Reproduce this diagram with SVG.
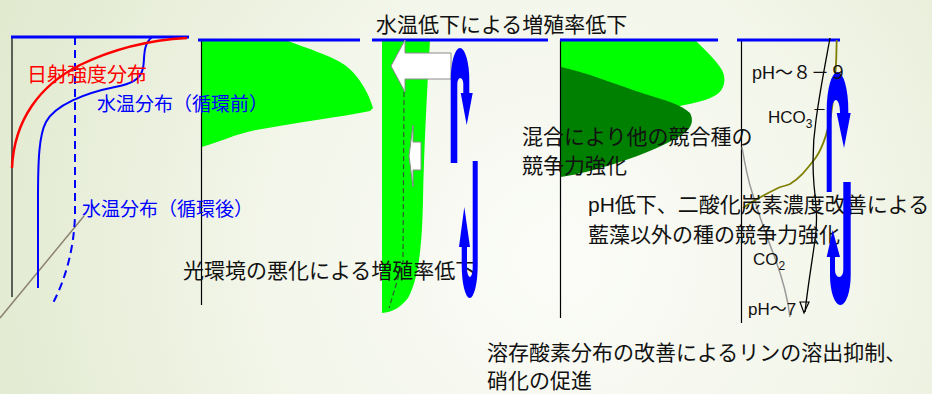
<svg xmlns="http://www.w3.org/2000/svg" width="932" height="394" viewBox="0 0 932 394">
  <defs>
    <radialGradient id="bg" cx="560" cy="260" r="640" gradientUnits="userSpaceOnUse">
      <stop offset="0" stop-color="#fbfcf8"/>
      <stop offset="0.45" stop-color="#f3f6ea"/>
      <stop offset="1" stop-color="#dfe8cc"/>
    </radialGradient>
    <style>
      .jp { font-family: "Noto Sans CJK JP", "Noto Sans", sans-serif; }
      .lat { font-family: "Liberation Sans", "Noto Sans CJK JP", sans-serif; }
      .label { font-size: 21px; fill: #111; }
      .top { stroke: #0000ff; stroke-width: 3; fill: none; }
      .axis { stroke: #000; stroke-width: 1.2; fill: none; }
      .hook { fill: #0000ff; }
      .bright { fill: #00ff00; }
      .dark { fill: #008000; }
      .white-arrow { fill: #ffffff; stroke: #8a8a8a; stroke-width: 1; }
    </style>
  </defs>

  <!-- background -->
  <rect width="932" height="394" fill="url(#bg)"/>
  <line x1="0" y1="318" x2="84" y2="216" stroke="#8c8270" stroke-width="1.5"/>

  <!-- panel 1: light and temperature profiles -->
  <g id="panel1">
    <line class="axis" x1="12" y1="37" x2="12" y2="297" stroke-width="2.5"/>
    <line class="top" x1="11" y1="37" x2="189" y2="37"/>
    <path d="M75,37 L75,215 C74,250 65,280 53,303" fill="none" stroke="#0000ff" stroke-width="2" stroke-dasharray="8,5"/>
    <path d="M152,37 C142,45 145,60 143,68 C141,80 130,84 115,87 C85,93 55,105 46,122 C39,135 38,160 38,200 L38,288" fill="none" stroke="#0000ff" stroke-width="2"/>
    <path d="M12,168 C14,120 40,85 80,65 C115,48 150,40 187,38" fill="none" stroke="#ff0000" stroke-width="2.5"/>
  </g>

  <!-- panel 2: algae near the surface -->
  <g id="panel2">
    <path class="bright" d="M201.5,40 L285,40 C310,49 330,56 340,62 C355,70 368,90 373,108 L370,111 C340,117 300,122 256,130 C235,134 220,142 201.5,147 Z"/>
    <line class="axis" x1="201.5" y1="40" x2="201.5" y2="305"/>
    <line class="top" x1="198" y1="40" x2="360" y2="40"/>
  </g>

  <!-- panel 3: mixing spreads the algae downward -->
  <g id="panel3">
    <path class="bright" d="M382,40 L430,40 C427,90 424,150 423,200 C422,250 418,280 408,298 C400,308 392,312 382,313 Z"/>
    <line class="top" x1="372" y1="40" x2="548" y2="40"/>
    <path d="M404,92 L403,262 L389,308" fill="none" stroke="#2f5a2f" stroke-width="1.2" stroke-dasharray="5,3"/>
    <polygon class="white-arrow" points="451,53 405,53 405,40 391,66 405,92 405,79 451,79"/>
    <polygon class="white-arrow" points="421,142 413,142 413,125 409,156 413,187 413,170 421,170"/>
  </g>

  <!-- panel 4: shift in competing species -->
  <g id="panel4">
    <path class="bright" d="M561,40 L695,40 C705,50 716,60 722,70 C727,80 724,90 716,95 C708,100 695,103 680,106 L561,106 Z"/>
    <path class="dark" d="M561,67 C585,72 615,84 645,94 C665,100 682,105 690,113 C694,120 692,128 683,134 C670,143 645,154 617,163 C598,169 580,174 561,177 Z"/>
    <line class="axis" x1="560.5" y1="40" x2="560.5" y2="318"/>
    <line class="top" x1="560" y1="40" x2="718" y2="40"/>
  </g>

  <!-- panel 5: carbonate equilibrium and pH -->
  <g id="panel5">
    <line class="axis" x1="741.5" y1="40" x2="741.5" y2="323"/>
    <line class="top" x1="737" y1="40" x2="840" y2="40"/>
    <path d="M742,147 C745,165 748,180 752,192 C758,212 766,235 775,258 C783,280 788,300 790,317" fill="none" stroke="#999999" stroke-width="1.5"/>
    <path d="M836.7,40 C836.5,60 835,90 831,115 C827,135 822,150 814,160 C806,170 800,178 790,184 C786,186 782,186 778,188 C766,194 752,201 743,208" fill="none" stroke="#808000" stroke-width="1.8"/>
    <path d="M830,38 C826,60 820,90 816,120 C813,140 812,160 814,185 C816,205 818,220 815,240 C812,262 808,285 805,312" fill="none" stroke="#000" stroke-width="1.3"/>
    <polygon points="800,302 809,302 804,313" fill="none" stroke="#000" stroke-width="1.2"/>
  </g>

  <!-- labels drawn over the profiles -->
  <g id="labels">
    <text id="title" class="jp label" x="376" y="32">水温低下による増殖率低下</text>
    <text class="jp" x="27" y="82" font-size="20" fill="#ff0000">日射強度分布</text>
    <text class="jp" x="97" y="111" font-size="19" fill="#0000ff">水温分布（循環前）</text>
    <text class="jp" x="82" y="216" font-size="19" fill="#0000ff">水温分布（循環後）</text>
    <text class="jp label" x="183" y="278">光環境の悪化による増殖率低下</text>
    <text class="jp label" x="522" y="144">混合により他の競合種の</text>
    <text class="jp label" x="522" y="173">競争力強化</text>
    <text class="lat label" x="588" y="212">pH低下、二酸化炭素濃度改善による</text>
    <text class="jp label" x="588" y="242">藍藻以外の種の競争力強化</text>
    <text class="jp label" x="487" y="360">溶存酸素分布の改善によるリンの溶出抑制、</text>
    <text class="jp label" x="487" y="388">硝化の促進</text>
  </g>

  <!-- circulation hooks -->
  <g id="circulation">
    <path class="hook" d="M450.7,163 L450.7,80 A9.3,32 0 0 1 469.3,80 L469.3,93 L472.7,93 L466.7,125 L460.7,93 L463.3,93 L463.3,84 A3,6 0 0 0 457.3,84 L457.3,163 Z"/>
    <path class="hook" d="M472.7,161 L477.7,161 L477.7,265 A8,33 0 0 1 461.7,265 L461.7,247 L459,247 L464.3,207 L470,247 L467,247 L467,268 A2.85,9 0 0 0 472.7,268 Z"/>
    <path class="hook" d="M826.7,192 L826.7,110 A10.8,38 0 0 1 848.3,110 L848.3,113 L850.7,113 L844,148 L836.7,113 L840,113 L840,112 A4.15,12 0 0 0 831.7,112 L831.7,192 Z"/>
    <path class="hook" d="M843.3,182 L850.7,182 L850.7,275 A10.35,30 0 0 1 830,275 L830,257 L826.7,257 L832.7,230 L840,257 L835,257 L835,270 A4.15,7 0 0 0 843.3,270 Z"/>
  </g>

  <!-- chemistry labels on top of the circulation -->
  <g id="chem-labels">
    <text class="lat" x="752" y="79" font-size="18" fill="#111">pH～８－９</text>
    <text class="lat" x="768" y="123" font-size="17" fill="#111">HCO<tspan font-size="12" dy="5">3</tspan><tspan font-size="14" dy="-14">－</tspan></text>
    <text class="lat" x="753" y="265" font-size="17" fill="#111">CO<tspan font-size="12" dy="5">2</tspan></text>
    <text class="lat" x="748" y="315" font-size="17" fill="#111">pH～7</text>
  </g>
</svg>
